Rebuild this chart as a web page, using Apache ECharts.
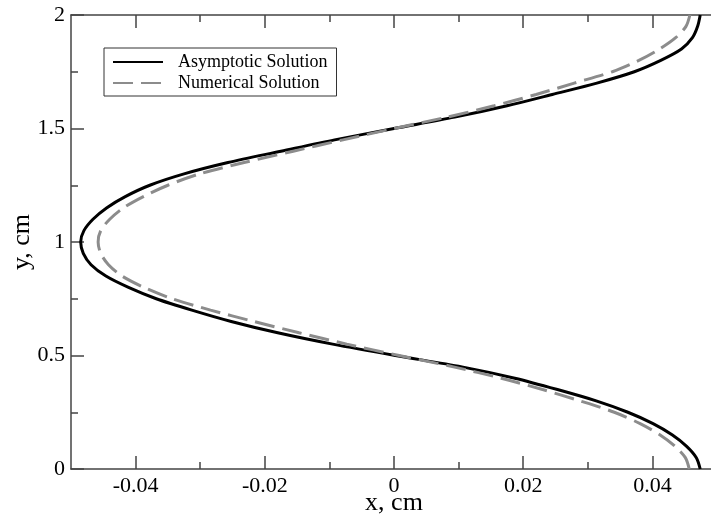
<!DOCTYPE html>
<html>
<head>
<meta charset="utf-8">
<title>Asymptotic vs Numerical Solution</title>
<script src="https://cdn.jsdelivr.net/npm/echarts@6/dist/echarts.min.js"></script>
<style>
	html, body { margin: 0; padding: 0; background: #ffffff; }
	#chart { width: 711px; height: 518px; }
</style>
</head>
<body>
<div id="chart"></div>
<script>
// 数据
let seriesNames = ['Asymptotic Solution', 'Numerical Solution'];

let yLevels = [0, 0.05, 0.1, 0.15, 0.2, 0.25, 0.3, 0.35, 0.4, 0.45,
	0.5, 0.55, 0.6, 0.65, 0.7, 0.75, 0.8, 0.85, 0.9, 0.95,
	1.0, 1.05, 1.1, 1.15, 1.2, 1.25, 1.3, 1.35, 1.4, 1.45,
	1.5, 1.55, 1.6, 1.65, 1.7, 1.75, 1.8, 1.85, 1.9, 1.95, 2.0];

let asymptoticX = [0.0474, 0.0468, 0.0453, 0.0431, 0.0401, 0.0362, 0.0313, 0.0253, 0.0187, 0.0105,
	0.0002, -0.0095, -0.0180, -0.0252, -0.0313, -0.0368, -0.0411, -0.0446, -0.0469, -0.0481,
	-0.0485, -0.0480, -0.0466, -0.0445, -0.0416, -0.0378, -0.0325, -0.0257, -0.0175, -0.0092,
	0.0000, 0.0094, 0.0175, 0.0245, 0.0314, 0.0372, 0.0413, 0.0445, 0.0462, 0.0470, 0.0474];

let numericalX = [0.0457, 0.0451, 0.0435, 0.0412, 0.0381, 0.0341, 0.0288, 0.0230, 0.0166, 0.0092,
	0.0008, -0.0073, -0.0147, -0.0217, -0.0284, -0.0343, -0.0387, -0.0421, -0.0442, -0.0454,
	-0.0458, -0.0454, -0.0440, -0.0419, -0.0388, -0.0350, -0.0301, -0.0232, -0.0156, -0.0079,
	0.0000, 0.0082, 0.0155, 0.0220, 0.0279, 0.0338, 0.0379, 0.0411, 0.0436, 0.0452, 0.0458];

// 刻度
let xMajorTicks = [-0.04, -0.02, 0, 0.02, 0.04];
let xMinorTicks = [-0.03, -0.01, 0.01, 0.03];
let yMajorTicks = [0, 0.5, 1, 1.5, 2];
let yMinorTicks = [0.25, 0.75, 1.25, 1.75];

(function() {
	let myChart = echarts.init(document.getElementById('chart'));

	let font = 'Liberation Serif';
	let axisColor = '#444444';

	function pairs(xs) {
		return xs.map(function(x, i) {
			return [x, yLevels[i]];
		});
	}

	// 生成坐标轴（主刻度 / 次刻度）
	function xAxisOf(position, ticks, len, main) {
		return {
			type: 'value',
			position: position,
			min: -0.05,
			max: 0.05,
			name: main && position === 'bottom' ? 'x, cm' : '',
			nameLocation: 'middle',
			nameGap: 21,
			nameMoveOverlap: false,
			nameTextStyle: { fontFamily: font, fontSize: 26, color: '#000' },
			axisLine: { show: main, onZero: false, lineStyle: { color: axisColor, width: 1.5 } },
			axisTick: { show: true, inside: true, length: len, customValues: ticks, lineStyle: { color: axisColor, width: 1.5 } },
			axisLabel: {
				show: main && position === 'bottom',
				customValues: ticks,
				margin: 6,
				fontFamily: font,
				fontSize: 22,
				color: '#000',
				formatter: function(v) { return String(v); }
			},
			splitLine: { show: false }
		};
	}

	function yAxisOf(ticks, len, main) {
		return {
			type: 'value',
			position: 'left',
			min: 0,
			max: 2,
			name: main ? 'y, cm' : '',
			nameLocation: 'middle',
			nameRotate: 90,
			nameGap: 36,
			nameMoveOverlap: false,
			nameTextStyle: { fontFamily: font, fontSize: 26, color: '#000' },
			axisLine: { show: main, onZero: false, lineStyle: { color: axisColor, width: 1.5 } },
			axisTick: { show: true, inside: true, length: len, customValues: ticks, lineStyle: { color: axisColor, width: 1.5 } },
			axisLabel: {
				show: main,
				customValues: ticks,
				margin: 6,
				fontFamily: font,
				fontSize: 22,
				color: '#000',
				formatter: function(v) { return String(v); }
			},
			splitLine: { show: false }
		};
	}

	let option = {
		animation: false,
		backgroundColor: '#ffffff',
		grid: {
			left: 71,
			top: 15,
			width: 646,
			height: 454,
			containLabel: false,
			outerBoundsMode: 'none'
		},
		legend: {
			orient: 'vertical',
			left: 104,
			top: 48,
			padding: [5, 9, 4, 8],
			itemGap: 3,
			itemWidth: 50,
			itemHeight: 14,
			borderColor: '#333333',
			borderWidth: 1,
			backgroundColor: '#ffffff',
			itemStyle: { opacity: 0 },
			textStyle: {
				fontFamily: font,
				fontSize: 18,
				lineHeight: 18,
				color: '#000',
				padding: [0, 0, 0, 10]
			},
			data: seriesNames
		},
		xAxis: [
			xAxisOf('bottom', xMajorTicks, 13, true),
			xAxisOf('bottom', xMinorTicks, 7, false),
			xAxisOf('top', xMajorTicks, 13, true),
			xAxisOf('top', xMinorTicks, 7, false)
		],
		yAxis: [
			yAxisOf(yMajorTicks, 13, true),
			yAxisOf(yMinorTicks, 7, false)
		],
		series: [
			{
				name: seriesNames[0],
				type: 'line',
				smooth: 0.3,
				symbol: 'none',
				lineStyle: { color: '#000000', width: 3 },
				itemStyle: { color: '#000000' },
				data: pairs(asymptoticX)
			},
			{
				name: seriesNames[1],
				type: 'line',
				smooth: 0.3,
				symbol: 'none',
				lineStyle: { color: '#8c8c8c', width: 3, type: [20, 8] },
				itemStyle: { color: '#8c8c8c' },
				data: pairs(numericalX)
			}
		]
	};

	myChart.setOption(option);

	window.addEventListener('resize', function() {
		myChart.resize();
	});
})();
</script>
</body>
</html>
